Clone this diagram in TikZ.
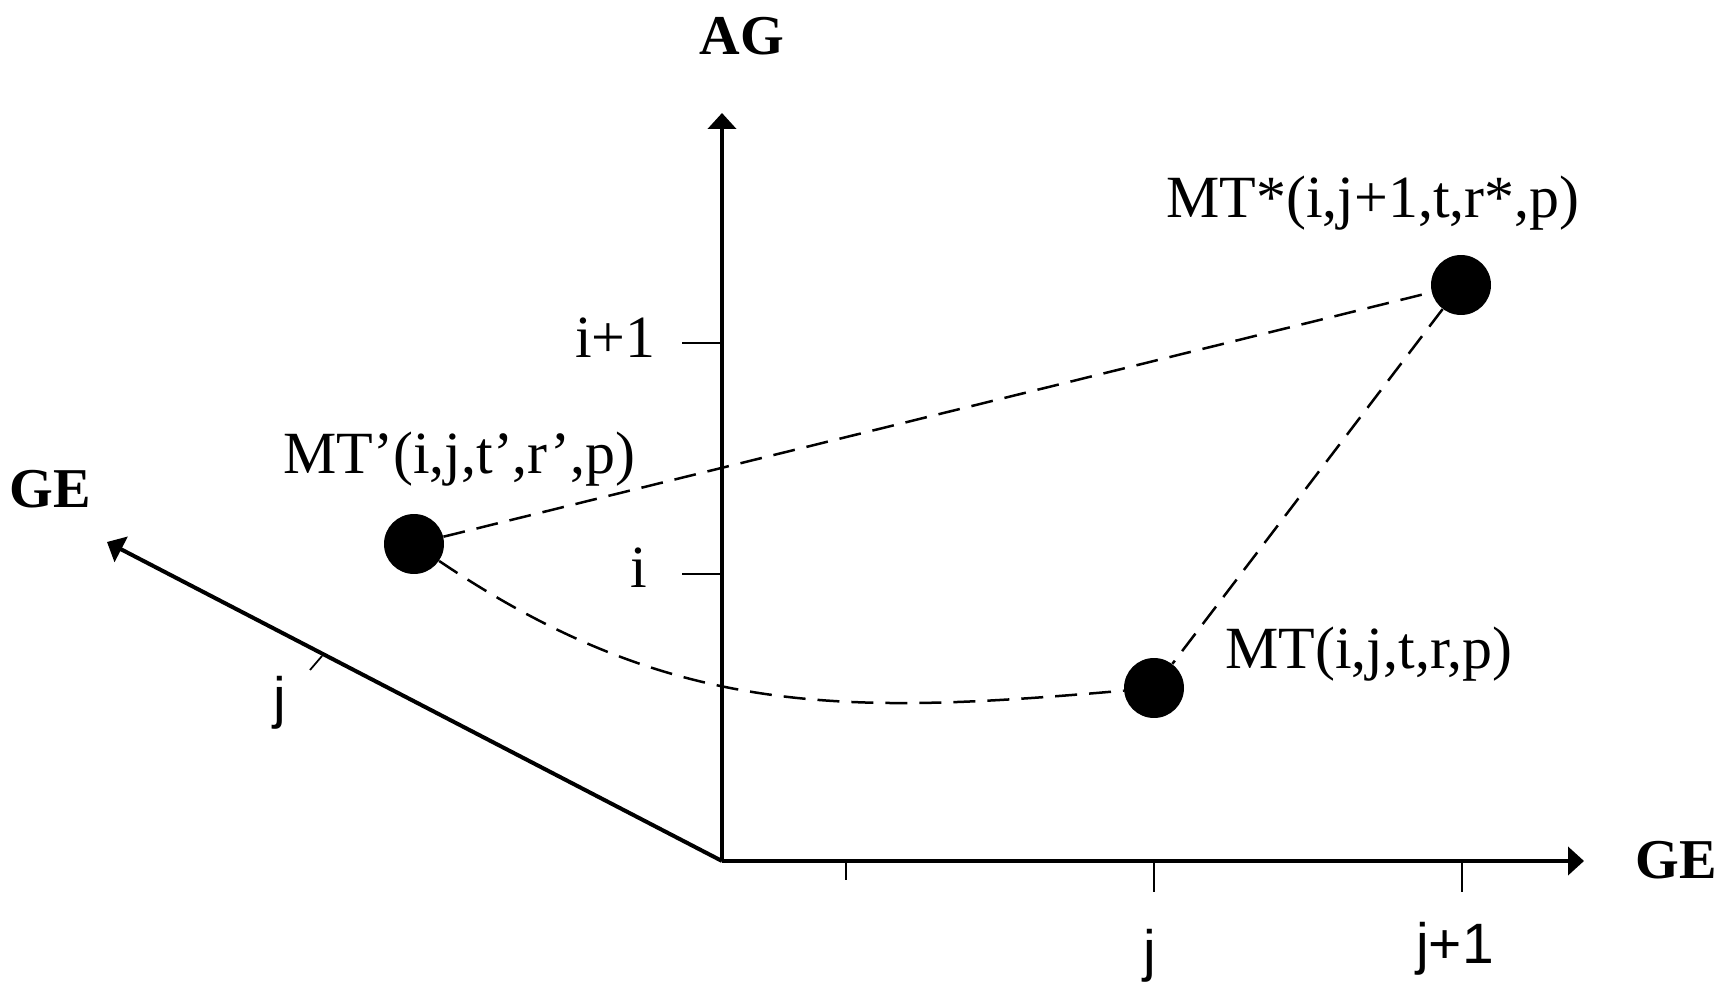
\documentclass[tikz,border=0pt]{standalone}
\usepackage{fontspec}
\setmainfont{Liberation Serif}
\newfontfamily\sansfam{Liberation Sans}
\usetikzlibrary{arrows.meta}
\tikzset{
  axis/.style={line width=0.08cm, -{Triangle[length=0.32cm,width=0.56cm]}},
  tickline/.style={line width=0.05cm},
  dashline/.style={line width=0.05cm, dash pattern=on 0.44cm off 0.24cm},
  dot/.style={circle, fill=black, minimum size=1.2cm, inner sep=0pt},
  lbl/.style={inner sep=0pt, font=\fontsize{34.1}{40}\selectfont},
  blbl/.style={inner sep=0pt, anchor=base, font=\fontsize{32}{38}\selectfont\bfseries},
  slbl/.style={inner sep=0pt, anchor=base, font=\fontsize{32.4}{38}\selectfont\sansfam},
}
\begin{document}
\begin{tikzpicture}[x=0.02cm, y=-0.02cm]
\useasboundingbox (0,0) rectangle (1728,1006);
% axes
\coordinate (O) at (722,861);
\coordinate (agtip) at (722,113);
\coordinate (getip) at (1584,861);
\coordinate (gltip) at (107,542);
\draw[axis] (O) -- (agtip);
\draw[axis] (O) -- (getip);
\draw[axis] (O) -- (gltip);
% ticks
\coordinate (t0a) at (846,861); \coordinate (t0b) at (846,880);
\coordinate (t1a) at (1154,861); \coordinate (t1b) at (1154,892);
\coordinate (t2a) at (1462,861); \coordinate (t2b) at (1462,892);
\draw[tickline] (t0a) -- (t0b);
\draw[tickline] (t1a) -- (t1b);
\draw[tickline] (t2a) -- (t2b);
\coordinate (v1a) at (682,343); \coordinate (v1b) at (722,343);
\coordinate (v0a) at (682,574); \coordinate (v0b) at (722,574);
\draw[tickline] (v1a) -- (v1b);
\draw[tickline] (v0a) -- (v0b);
\coordinate (lta) at (322,656); \coordinate (ltb) at (310,670);
\draw[line width=0.035cm] (lta) -- (ltb);
% axis labels
\node[blbl] (ag) at (742,55) {AG};
\node[blbl] (gel) at (50,508) {GE};
\node[blbl] (ger) at (1676,878) {GE};
\node[lbl, anchor=base east] (ip1) at (656,358) {i+1};
\node[lbl, anchor=base east] (ii) at (647,588) {i};
\node[slbl] (jb) at (1150,970) {j};
\node[slbl] (jp1) at (1455,963) {j+1};
\node[slbl] (jl) at (280,717) {j};
% points
\node[dot] (mtp) at (414,544) {};
\node[dot] (mt) at (1154,688) {};
\node[dot] (mts) at (1461,285) {};
\node[lbl, anchor=base west] (lmtp) at (283,474) {MT’(i,j,t’,r’,p)};
\node[lbl, anchor=base west] (lmt) at (1225,668) {MT(i,j,t,r,p)};
\node[lbl, anchor=base west] (lmts) at (1166,218) {MT*(i,j+1,t,r*,p)};
% connectors
\draw[dashline] (mtp) -- (mts);
\draw[dashline] (mts) -- (mt);
\draw[dashline] (mtp) to[out=-34, in=185, looseness=1.03] (mt);
\end{tikzpicture}
\end{document}
